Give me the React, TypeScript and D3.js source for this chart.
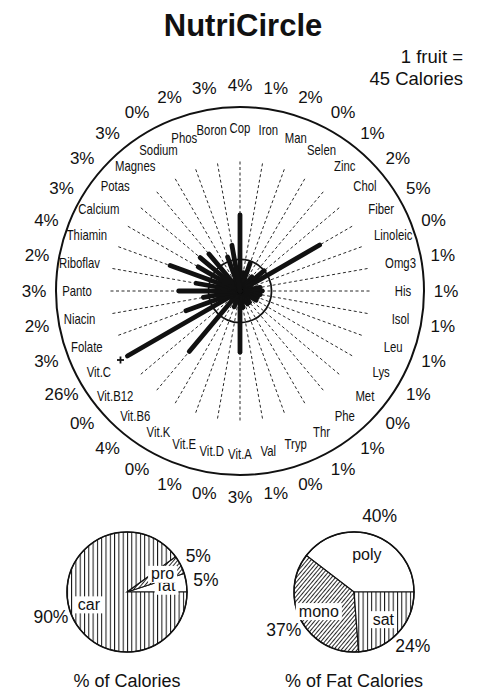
import React from "react";
import * as d3 from "d3";

// ---------- data ----------
const nutrients = [
  "Cop", "Iron", "Man", "Selen", "Zinc", "Chol", "Fiber", "Linoleic", "Omg3",
  "His", "Isol", "Leu", "Lys", "Met", "Phe", "Thr", "Tryp", "Val", "Vit.A",
  "Vit.D", "Vit.E", "Vit.K", "Vit.B6", "Vit.B12", "Vit.C", "Folate", "Niacin",
  "Panto", "Riboflav", "Thiamin", "Calcium", "Potas", "Magnes", "Sodium", "Phos", "Boron",
];
// % Daily Value printed around the circle
const percentDV = [
  4, 1, 2, 0, 1, 2, 5, 0, 1, 1, 1, 1, 1, 0, 1, 1, 0, 1, 3,
  0, 1, 0, 4, 0, 26, 3, 2, 3, 2, 4, 3, 3, 3, 0, 2, 3,
];
// bar lengths (in %DV units)
const barValues = [
  4.1, 1.0, 1.6, 0.4, 1.0, 1.7, 4.95, 0.4, 1.1, 1.2, 1.1, 1.0, 1.0, 0.5, 0.8, 0.8, 0.4, 0.9, 3.3,
  0.1, 0.9, 0.3, 4.25, 0.1, 26, 3.1, 2.0, 3.3, 2.4, 4.0, 2.6, 2.8, 2.6, 0.3, 1.95, 2.5,
];
const barMax = 7; // values beyond are clipped and marked with "+"
const referenceLevel = 1.7; // inner reference circle

const calorieNames = ["fat", "pro", "car"];
const calorieValues = [5, 5, 90];
const fatNames = ["poly", "mono", "sat"];
const fatValues = [40, 37, 24];

const servingLine1 = "1 fruit =";
const servingLine2 = "45 Calories";

// ---------- styles ----------
const FONT = "'Liberation Sans', Arial, Helvetica, sans-serif";
const INK = "#111";
const fillFor: Record<string, string> = {
  fat: "#fff",
  pro: "url(#diagHatch)",
  car: "url(#vHatch)",
  poly: "#fff",
  mono: "url(#diagHatch)",
  sat: "url(#vHatch)",
};

let measureCtx: CanvasRenderingContext2D | null = null;
function textWidth(t: string, size: number) {
  if (!measureCtx) measureCtx = document.createElement("canvas").getContext("2d");
  if (!measureCtx) return t.length * size * 0.55;
  measureCtx.font = `${size}px 'Liberation Sans', Arial, sans-serif`;
  return measureCtx.measureText(t).width;
}

function Pie({ cx, cy, names, values, title }: { cx: number; cy: number; names: string[]; values: number[]; title: string }) {
  const R = 60;
  const data = names.map((n, i) => ({ name: n, value: values[i] }));
  const arcs = d3
    .pie<{ name: string; value: number }>()
    .sort(null)
    .value((d) => d.value)
    .startAngle(Math.PI / 2)
    .endAngle(Math.PI / 2 - 2 * Math.PI)(data);
  const arc = d3.arc<any>().innerRadius(0).outerRadius(R);
  const nameArc = d3.arc<any>().innerRadius(40).outerRadius(40);
  const pctArc = d3.arc<any>().innerRadius(80).outerRadius(80);
  const nameSize = 16;
  return (
    <g>
      <g transform={`translate(${cx},${cy})`}>
        {arcs.map((a) => (
          <path key={a.data.name} d={arc(a) || ""} fill={fillFor[a.data.name]} stroke={INK} strokeWidth={1.2} />
        ))}
        <circle r={R} fill="none" stroke={INK} strokeWidth={1.5} />
        {arcs.map((a) => {
          const [x, y] = nameArc.centroid(a);
          const w = textWidth(a.data.name, nameSize);
          return (
            <g key={"n" + a.data.name}>
              <rect x={x - w / 2 - 3} y={y - 8} width={w + 6} height={17} fill="#fff" />
              <text x={x} y={y} fontSize={nameSize} fontFamily={FONT} textAnchor="middle" dominantBaseline="central" fill={INK}>
                {a.data.name}
              </text>
            </g>
          );
        })}
        {arcs.map((a) => {
          const [x, y] = pctArc.centroid(a);
          return (
            <text key={"p" + a.data.name} x={x} y={y} fontSize={17.5} fontFamily={FONT} textAnchor="middle" dominantBaseline="central" fill={INK}>
              {a.data.value + "%"}
            </text>
          );
        })}
      </g>
      <text x={cx} y={687} fontSize={18} fontFamily={FONT} textAnchor="middle" fill={INK}>
        {title}
      </text>
    </g>
  );
}

export default function App() {
  const cx = 240;
  const cy = 291;
  const R = 184;
  const angle = d3.scaleBand<string>().domain(nutrients).range([0, 2 * Math.PI]);
  const r = d3.scaleLinear().domain([0, barMax]).range([0, 130]).clamp(true);
  const pt = (a: number, rad: number) => [cx + rad * Math.sin(a), cy - rad * Math.cos(a)];

  return (
    <svg width={479} height={692} style={{ position: "absolute", left: 0, top: 0, background: "#fff" }}>
      <defs>
        <pattern id="vHatch" width={4.3} height={10} patternUnits="userSpaceOnUse">
          <rect width={4.3} height={10} fill="#fff" />
          <line x1={0.5} y1={0} x2={0.5} y2={10} stroke={INK} strokeWidth={1} />
        </pattern>
        <pattern id="diagHatch" width={3} height={10} patternUnits="userSpaceOnUse" patternTransform="rotate(40)">
          <rect width={3} height={10} fill="#fff" />
          <line x1={0.5} y1={0} x2={0.5} y2={10} stroke={INK} strokeWidth={0.9} />
        </pattern>
      </defs>

      <text x={243} y={36} fontSize={31} fontWeight="bold" fontFamily={FONT} textAnchor="middle" fill={INK}>
        NutriCircle
      </text>
      <text x={463} y={63} fontSize={18.5} fontFamily={FONT} textAnchor="end" fill={INK}>
        {servingLine1}
      </text>
      <text x={463} y={85} fontSize={18.5} fontFamily={FONT} textAnchor="end" fill={INK}>
        {servingLine2}
      </text>

      {/* outer circle */}
      <circle cx={cx} cy={cy} r={R} fill="none" stroke={INK} strokeWidth={2} />

      {/* dashed spokes */}
      {nutrients.map((n) => {
        const [x2, y2] = pt(angle(n)!, r(barMax));
        return <line key={"s" + n} x1={cx} y1={cy} x2={x2} y2={y2} stroke={INK} strokeWidth={0.9} strokeDasharray="3,2.5" />;
      })}

      {/* reference circle */}
      <circle cx={cx} cy={cy} r={r(referenceLevel)} fill="none" stroke={INK} strokeWidth={1.8} />

      {/* bars */}
      {nutrients.map((n, i) => {
        const [x2, y2] = pt(angle(n)!, r(barValues[i]));
        return <line key={"b" + n} x1={cx} y1={cy} x2={x2} y2={y2} stroke={INK} strokeWidth={4.8} strokeLinecap="round" />;
      })}

      {/* overflow markers */}
      {nutrients.map((n, i) => {
        if (barValues[i] <= barMax) return null;
        const [x, y] = pt(angle(n)!, r(barMax) + 8);
        return (
          <g key={"o" + n} stroke={INK} strokeWidth={1.8}>
            <line x1={x - 3.5} y1={y} x2={x + 3.5} y2={y} />
            <line x1={x} y1={y - 3.5} x2={x} y2={y + 3.5} />
          </g>
        );
      })}

      {/* nutrient names */}
      {nutrients.map((n) => {
        const [x, y] = pt(angle(n)!, 163);
        return (
          <text
            key={"l" + n}
            transform={`translate(${x},${y}) scale(0.8,1)`}
            fontSize={14.2}
            fontFamily={FONT}
            textAnchor="middle"
            dominantBaseline="central"
            fill={INK}
          >
            {n}
          </text>
        );
      })}

      {/* percent labels */}
      {nutrients.map((n, i) => {
        const [x, y] = pt(angle(n)!, 206);
        return (
          <text key={"p" + n} x={x} y={y} fontSize={17} fontFamily={FONT} textAnchor="middle" dominantBaseline="central" fill={INK}>
            {percentDV[i] + "%"}
          </text>
        );
      })}

      <Pie cx={127} cy={592} names={calorieNames} values={calorieValues} title="% of Calories" />
      <Pie cx={354} cy={592} names={fatNames} values={fatValues} title="% of Fat Calories" />
    </svg>
  );
}
